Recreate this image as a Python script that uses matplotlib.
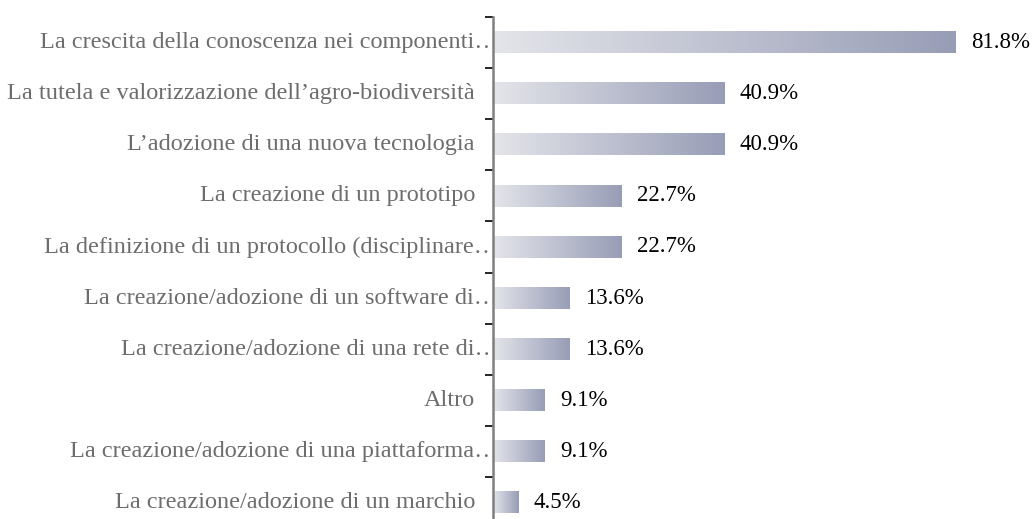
import numpy as np
import matplotlib
matplotlib.use('Agg')
import matplotlib.pyplot as plt
from matplotlib.colors import LinearSegmentedColormap

# Data (top to bottom)
labels = [
    'La crescita della conoscenza nei componenti…',
    'La tutela e valorizzazione dell’agro-biodiversità',
    'L’adozione di una nuova tecnologia',
    'La creazione di un prototipo',
    'La definizione di un protocollo (disciplinare…',
    'La creazione/adozione di un software di…',
    'La creazione/adozione di una rete di…',
    'Altro',
    'La creazione/adozione di una piattaforma…',
    'La creazione/adozione di un marchio',
]
values = [81.8, 40.9, 40.9, 22.7, 22.7, 13.6, 13.6, 9.1, 9.1, 4.5]

plt.rcParams['font.family'] = ['Liberation Serif', 'DejaVu Serif']

fig = plt.figure(figsize=(10.34, 5.19), dpi=100)
ax = fig.add_axes([0.4768, -0.0173, 0.4925, 0.9845])

n = len(values)
y = np.arange(n)
bh = 0.42
bars = ax.barh(y, values, height=bh, color='none')

cmap = LinearSegmentedColormap.from_list('g', ['#e4e5ea', '#989db6'])
grad = np.linspace(0, 1, 256).reshape(1, -1)
for b, v in zip(bars, values):
    x0, y0 = b.get_x(), b.get_y()
    ax.imshow(grad, cmap=cmap, aspect='auto', interpolation='bilinear',
              extent=(x0, x0 + b.get_width(), y0 + b.get_height(), y0), zorder=2)
    ax.annotate(f'{v:.1f}%', xy=(v, b.get_y() + bh / 2), xytext=(11, 0),
                textcoords='offset points', va='center', ha='left',
                fontsize=16.5, color='black')

# truncated labels run under the axis line, like in the original
for i, lab in enumerate(labels):
    off = 4 if lab.endswith('…') else -13
    ax.annotate(lab, xy=(0, i), xytext=(off, 0), textcoords='offset points',
                va='center', ha='right', fontsize=17.5, color='#6f6c6c', zorder=1)

ax.set_xlim(0, 90)
ax.set_ylim(n - 0.5, -0.5)
ax.set_yticks(y)
ax.set_yticklabels([])
ax.tick_params(axis='y', which='major', length=0)
ax.set_yticks(np.arange(n + 1) - 0.5, minor=True)
ax.tick_params(axis='y', which='minor', length=6, width=1.2, color='black', direction='out')
ax.set_xticks([])
for s in ['top', 'right', 'bottom']:
    ax.spines[s].set_visible(False)
ax.spines['left'].set_color('#7f7f7f')
ax.spines['left'].set_linewidth(1.8)
ax.spines['left'].set_zorder(3)

fig.savefig('out.png', dpi=100)
